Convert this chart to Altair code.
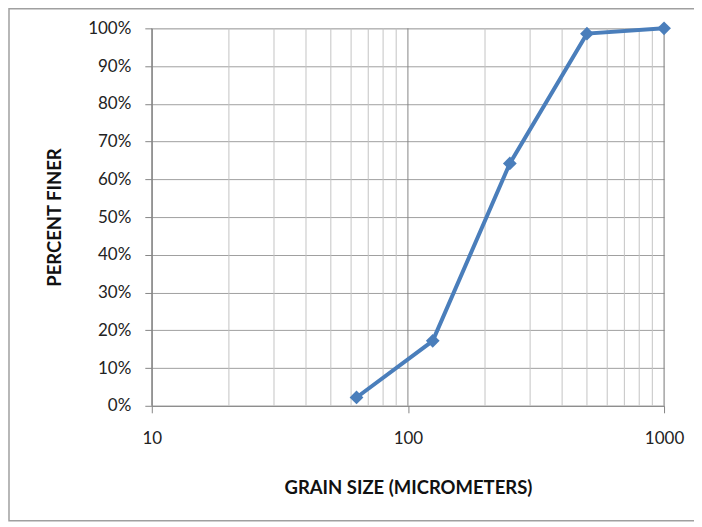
import altair as alt
import pandas as pd

grain_size = [63, 125, 250, 500, 1000]
percent_finer = [0.022, 0.172, 0.642, 0.986, 1.0]
x_major = [10, 100, 1000]
x_minor = [20, 30, 40, 50, 60, 70, 80, 90, 200, 300, 400, 500, 600, 700, 800, 900]
y_ticks = [0, 0.1, 0.2, 0.3, 0.4, 0.5, 0.6, 0.7, 0.8, 0.9, 1.0]

df = pd.DataFrame({"size": grain_size, "pct": percent_finer})
minor_df = pd.DataFrame({"size": x_minor})
major_df = pd.DataFrame({"size": x_major})
frame_df = pd.DataFrame({"k": [0]})

W, H = 513, 378
FONT = "Lato"

xscale = alt.Scale(type="log", domain=[10, 1000], nice=False)
yscale = alt.Scale(domain=[0, 1], nice=False)

xaxis = alt.Axis(
    values=x_major, format="d", grid=False, tickSize=7, tickColor="#868686",
    domainColor="#868686", labelPadding=18, labelFontSize=17, labelFont=FONT,
    labelColor="#222222", title="GRAIN SIZE (MICROMETERS)", titleFont=FONT,
    titleFontSize=18.5, titleFontWeight="bold", titleColor="#111111",
    titleX=W / 2, titleY=82, titleBaseline="middle", titleAlign="center",
    labelFlush=False, labelOverlap=False,
)
yaxis = alt.Axis(
    values=y_ticks, format=".0%", grid=True, gridColor="#a0a0a0", tickSize=7,
    tickColor="#868686", domainColor="#868686", labelPadding=14,
    labelFontSize=17, labelFont=FONT, labelColor="#222222", labelOverlap=False,
    title="PERCENT FINER", titleFont=FONT, titleFontSize=18.5,
    titleFontWeight="bold", titleColor="#111111", titleX=-97, titleY=H / 2,
    titleAngle=270, titleAlign="center", titleBaseline="middle",
)

minor = alt.Chart(minor_df).mark_rule(color="#c4c4c4", strokeWidth=1).encode(
    x=alt.X("size:Q", scale=xscale, axis=xaxis)
)
major = alt.Chart(major_df).mark_rule(color="#868686", strokeWidth=1).encode(
    x=alt.X("size:Q", scale=xscale, axis=xaxis)
)
line = alt.Chart(df).mark_line(color="#4a7ebb", strokeWidth=4).encode(
    x=alt.X("size:Q", scale=xscale, axis=xaxis),
    y=alt.Y("pct:Q", scale=yscale, axis=yaxis),
)
pts = alt.Chart(df).mark_point(
    shape="diamond", filled=True, size=190, color="#4a7ebb", opacity=1
).encode(
    x=alt.X("size:Q", scale=xscale, axis=xaxis),
    y=alt.Y("pct:Q", scale=yscale, axis=yaxis),
)
frame = alt.Chart(frame_df).mark_rect(
    fill=None, stroke="#a0a0a0", strokeWidth=1.5
).encode(
    x=alt.value(-143), x2=alt.value(W + 60), y=alt.value(-19.5), y2=alt.value(H + 115)
)

chart = alt.layer(minor, major, line, pts, frame).properties(
    width=W, height=H,
    autosize=alt.AutoSizeParams(type="none"),
    padding={"left": 144, "top": 20, "right": 30, "bottom": 116},
).configure_view(stroke="#868686", strokeWidth=1).configure(background="white")

chart.save("out.html", embed_options={"renderer": "svg", "actions": False})
